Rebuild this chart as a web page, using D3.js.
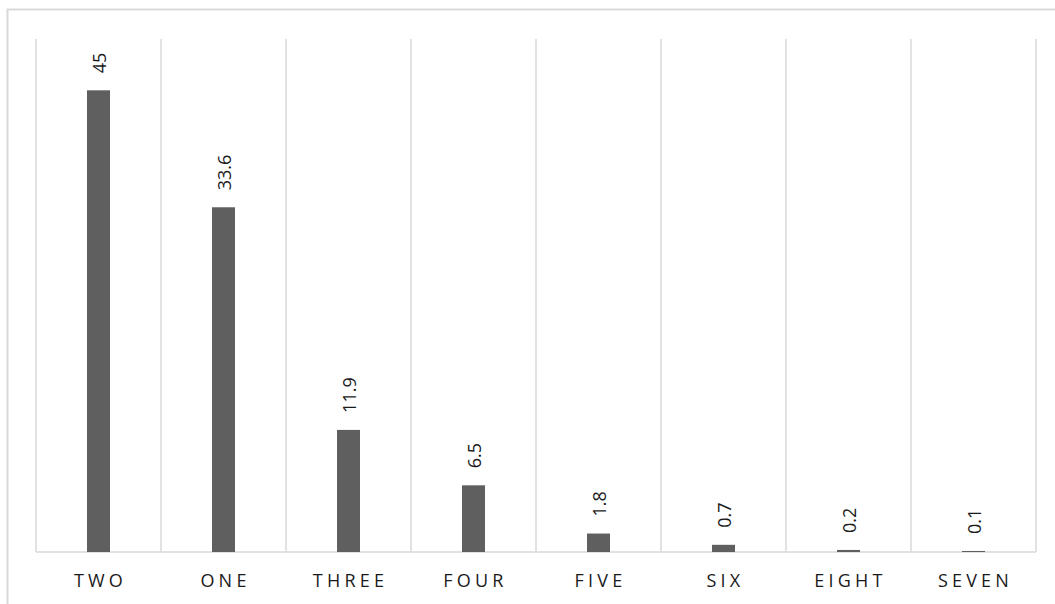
<!DOCTYPE html>
<html>
<head>
<meta charset="utf-8">
<script src="https://cdn.jsdelivr.net/npm/d3@7"></script>
<style>
  html, body { margin: 0; padding: 0; background: #fff; }
  svg { display: block; }
</style>
</head>
<body>
<svg id="chart" width="1055" height="604"></svg>
<script>
// Category names and their values
const categories = ["TWO", "ONE", "THREE", "FOUR", "FIVE", "SIX", "EIGHT", "SEVEN"];
const values = [45, 33.6, 11.9, 6.5, 1.8, 0.7, 0.2, 0.1];
const yDomain = [0, 50];

const svg = d3.select("#chart");
const plot = { left: 36, right: 1036, top: 39, bottom: 552 };

// Outer chart frame (runs off the bottom and right edges)
svg.append("rect")
  .attr("x", 7.5).attr("y", 9.5)
  .attr("width", 1200).attr("height", 800)
  .attr("fill", "none")
  .attr("stroke", "#d9d9d9")
  .attr("stroke-width", 2);

const x = d3.scaleBand()
  .domain(categories)
  .range([plot.left, plot.right])
  .padding(0);

const y = d3.scaleLinear()
  .domain(yDomain)
  .range([plot.bottom, plot.top]);

// Vertical separators between categories
const bounds = categories.map(c => x(c)).concat([plot.right]);
svg.append("g")
  .selectAll("line")
  .data(bounds)
  .join("line")
  .attr("x1", d => d).attr("x2", d => d)
  .attr("y1", plot.top).attr("y2", plot.bottom)
  .attr("stroke", "#d9d9d9")
  .attr("stroke-width", 1.5);

// Baseline
svg.append("line")
  .attr("x1", plot.left).attr("x2", plot.right)
  .attr("y1", plot.bottom).attr("y2", plot.bottom)
  .attr("stroke", "#d9d9d9")
  .attr("stroke-width", 1.5);

const barW = x.bandwidth() * 0.184;
const data = categories.map((c, i) => ({ c, v: values[i] }));

// Bars
svg.append("g")
  .selectAll("rect")
  .data(data)
  .join("rect")
  .attr("x", d => x(d.c) + (x.bandwidth() - barW) / 2)
  .attr("y", d => y(d.v))
  .attr("width", barW)
  .attr("height", d => y(0) - y(d.v))
  .attr("fill", "#5f5f5f");

// Value labels, rotated
svg.append("g")
  .selectAll("text")
  .data(data)
  .join("text")
  .attr("transform", d => `translate(${x(d.c) + x.bandwidth() / 2 + 1},${y(d.v) - 17}) rotate(-90)`)
  .attr("dy", "0.35em")
  .attr("text-anchor", "start")
  .attr("font-family", "'Open Sans', sans-serif")
  .attr("font-size", 18)
  .attr("fill", "#1a1a1a")
  .text(d => d.v);

// Category axis labels
svg.append("g")
  .selectAll("text")
  .data(categories)
  .join("text")
  .attr("x", d => x(d) + x.bandwidth() / 2 + 2)
  .attr("y", 587)
  .attr("text-anchor", "middle")
  .attr("font-family", "'Open Sans', sans-serif")
  .attr("font-size", 18)
  .attr("letter-spacing", 4.2)
  .attr("fill", "#1a1a1a")
  .text(d => d);
</script>
</body>
</html>
